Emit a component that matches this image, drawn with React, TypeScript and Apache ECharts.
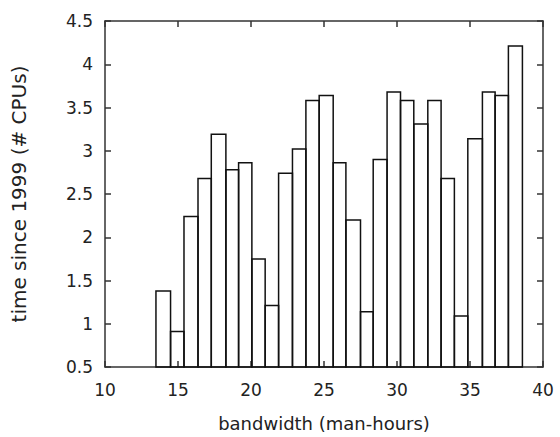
import React, { useEffect, useRef } from "react";
import * as echarts from "echarts";

// Bar edges (bandwidth, man-hours): bar i spans binEdges[i]..binEdges[i+1]
const binEdges = [
  13.49, 14.49, 15.41, 16.37, 17.28, 18.28, 19.15, 20.06, 20.97, 21.89,
  22.84, 23.76, 24.67, 25.63, 26.5, 27.5, 28.37, 29.32, 30.24, 31.15,
  32.11, 33.02, 33.93, 34.85, 35.85, 36.72, 37.63, 38.59,
];
// Bar heights (time since 1999, # CPUs)
const yValues = [
  1.38, 0.91, 2.24, 2.68, 3.19, 2.78, 2.86, 1.75, 1.21, 2.74,
  3.02, 3.58, 3.64, 2.86, 2.2, 1.14, 2.9, 3.68, 3.58, 3.31,
  3.58, 2.68, 1.09, 3.14, 3.68, 3.64, 4.21,
];
const BASE = 0.5;

const xTitle = "bandwidth (man-hours)";
const yTitle = "time since 1999 (# CPUs)";

const FONT = "DejaVu Sans";
const TXT = "#222";
const AX = "#333";

export default function App() {
  const ref = useRef<HTMLDivElement>(null);
  useEffect(() => {
    if (!ref.current) return;
    const chart = echarts.init(ref.current, undefined, { renderer: "svg" });
    const data = yValues.map((y, i) => [binEdges[i], binEdges[i + 1], y]);
    const axisLine = { show: true, lineStyle: { color: AX, width: 1.5 } };
    const tick = { show: true, inside: true, length: 6, lineStyle: { color: AX, width: 1.5 } };
    chart.setOption({
      animation: false,
      backgroundColor: "#fff",
      grid: { left: 105, right: 17, top: 21, bottom: 68, containLabel: false },
      xAxis: [
        {
          type: "value",
          min: 10,
          max: 40,
          interval: 5,
          position: "bottom",
          axisLine,
          axisTick: tick,
          splitLine: { show: false },
          axisLabel: { margin: 14, color: TXT, fontFamily: FONT, fontSize: 17 },
          name: xTitle,
          nameLocation: "middle",
          nameGap: 47,
          nameTextStyle: { color: TXT, fontFamily: FONT, fontSize: 18 },
        },
        {
          type: "value",
          min: 10,
          max: 40,
          interval: 5,
          position: "top",
          axisLine,
          axisTick: tick,
          splitLine: { show: false },
          axisLabel: { show: false },
        },
      ],
      yAxis: [
        {
          type: "value",
          min: 0.5,
          max: 4.5,
          interval: 0.5,
          position: "left",
          axisLine,
          axisTick: tick,
          splitLine: { show: false },
          axisLabel: { margin: 12, color: TXT, fontFamily: FONT, fontSize: 17 },
          name: yTitle,
          nameLocation: "middle",
          nameGap: 76,
          nameTextStyle: { color: TXT, fontFamily: FONT, fontSize: 20 },
        },
        {
          type: "value",
          min: 0.5,
          max: 4.5,
          interval: 0.5,
          position: "right",
          axisLine,
          axisTick: tick,
          splitLine: { show: false },
          axisLabel: { show: false },
        },
      ],
      series: [
        {
          type: "custom",
          xAxisIndex: 0,
          yAxisIndex: 0,
          encode: { x: [0, 1], y: 2 },
          data,
          renderItem: (params: any, api: any) => {
            const x0 = api.value(0);
            const x1 = api.value(1);
            const y = api.value(2);
            const p1 = api.coord([x0, y]);
            const p2 = api.coord([x1, BASE]);
            return {
              type: "rect",
              shape: { x: p1[0], y: p1[1], width: p2[0] - p1[0], height: p2[1] - p1[1] },
              style: { fill: "none", stroke: "#111", lineWidth: 1.5 },
            };
          },
        },
      ],
    });
    return () => chart.dispose();
  }, []);
  return (
    <div
      ref={ref}
      style={{ position: "absolute", left: 0, top: 0, width: 560, height: 437 }}
    />
  );
}
